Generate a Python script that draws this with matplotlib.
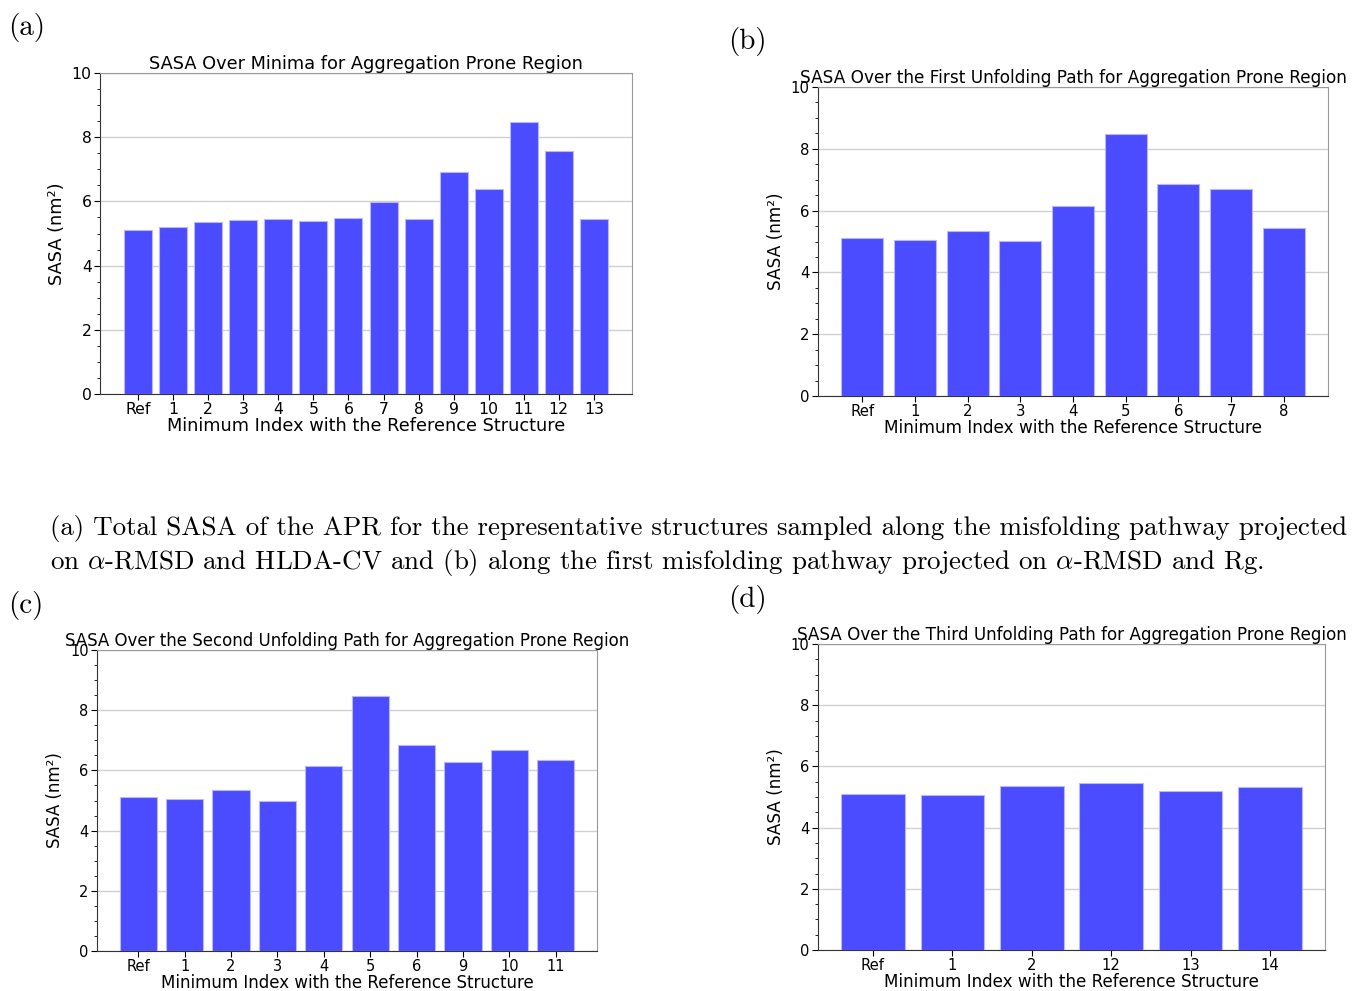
import matplotlib
matplotlib.use('Agg')
from matplotlib import pyplot as plt
from matplotlib.ticker import MultipleLocator

# data
labels_a = ['Ref', '1', '2', '3', '4', '5', '6', '7', '8', '9', '10', '11', '12', '13']
sasa_a = [5.11, 5.21, 5.35, 5.43, 5.45, 5.38, 5.48, 5.99, 5.45, 6.93, 6.38, 8.46, 7.57, 5.45]

labels_b = ['Ref', '1', '2', '3', '4', '5', '6', '7', '8']
sasa_b = [5.12, 5.05, 5.33, 5.01, 6.14, 8.47, 6.86, 6.71, 5.44]

labels_c = ['Ref', '1', '2', '3', '4', '5', '6', '9', '10', '11']
sasa_c = [5.11, 5.06, 5.34, 5.00, 6.15, 8.47, 6.85, 6.29, 6.68, 6.35]

labels_d = ['Ref', '1', '2', '12', '13', '14']
sasa_d = [5.11, 5.07, 5.35, 5.47, 5.18, 5.32]

titles = ['SASA Over Minima for Aggregation Prone Region',
          'SASA Over the First Unfolding Path for Aggregation Prone Region',
          'SASA Over the Second Unfolding Path for Aggregation Prone Region',
          'SASA Over the Third Unfolding Path for Aggregation Prone Region']

caption1 = '(a) Total SASA of the APR for the representative structures sampled along the misfolding pathway projected'
caption2 = r'on $\alpha$-RMSD and HLDA-CV and (b) along the first misfolding pathway projected on $\alpha$-RMSD and Rg.'

plt.rcParams['mathtext.fontset'] = 'cm'

W, H = 1354, 991
fig = plt.figure(figsize=(W / 100, H / 100), dpi=100)


def px_axes(left, right, top, bottom):
    return fig.add_axes([left / W, 1 - bottom / H, (right - left) / W, (bottom - top) / H])


def draw(ax, labels, vals, title, fs):
    x = range(len(labels))
    ax.bar(x, vals, width=0.8, color='#4b4bff', edgecolor='#b8b8ff', linewidth=0.8, zorder=3)
    ax.set_xticks(list(x))
    ax.set_xticklabels(labels, fontsize=fs * 0.88)
    ax.set_ylim(0, 10)
    ax.yaxis.set_major_locator(MultipleLocator(2))
    ax.yaxis.set_minor_locator(MultipleLocator(0.5))
    ax.tick_params(axis='y', labelsize=fs * 0.88, length=4, pad=2)
    ax.tick_params(axis='y', which='minor', length=2)
    ax.tick_params(axis='x', length=4, pad=2)
    ax.grid(axis='y', color='#d0d0d0', linewidth=1, zorder=0)
    ax.set_axisbelow(True)
    for s in ['top', 'right']:
        ax.spines[s].set_color('#999999')
    for s in ['left', 'bottom']:
        ax.spines[s].set_color('#333333')
    ax.set_title(title, fontsize=fs, pad=2)
    ax.set_xlabel('Minimum Index with the Reference Structure', fontsize=fs, labelpad=0)
    ax.set_ylabel('SASA (nm²)', fontsize=fs, labelpad=4)


ax_a = px_axes(100, 632, 73, 394)
draw(ax_a, labels_a, sasa_a, titles[0], 12.75)
ax_b = px_axes(818, 1328, 87, 396)
draw(ax_b, labels_b, sasa_b, titles[1], 12.2)
ax_c = px_axes(97, 597, 650, 951)
draw(ax_c, labels_c, sasa_c, titles[2], 12.0)
ax_d = px_axes(818, 1325, 644, 950)
draw(ax_d, labels_d, sasa_d, titles[3], 12.1)

# panel letters and caption
letter = dict(family='cmr10', fontsize=21)
fig.text(8 / W, 1 - 28 / H, '(a)', va='center', ha='left', **letter)
fig.text(728 / W, 1 - 42 / H, '(b)', va='center', ha='left', **letter)
fig.text(8 / W, 1 - 605 / H, '(c)', va='center', ha='left', **letter)
fig.text(728 / W, 1 - 600 / H, '(d)', va='center', ha='left', **letter)

cap = dict(family='cmr10', fontsize=19.4)
fig.text(50 / W, 1 - 529 / H, caption1, va='center', ha='left', **cap)
fig.text(50 / W, 1 - 562 / H, caption2, va='center', ha='left', **cap)

fig.savefig('out.png', dpi=100)
